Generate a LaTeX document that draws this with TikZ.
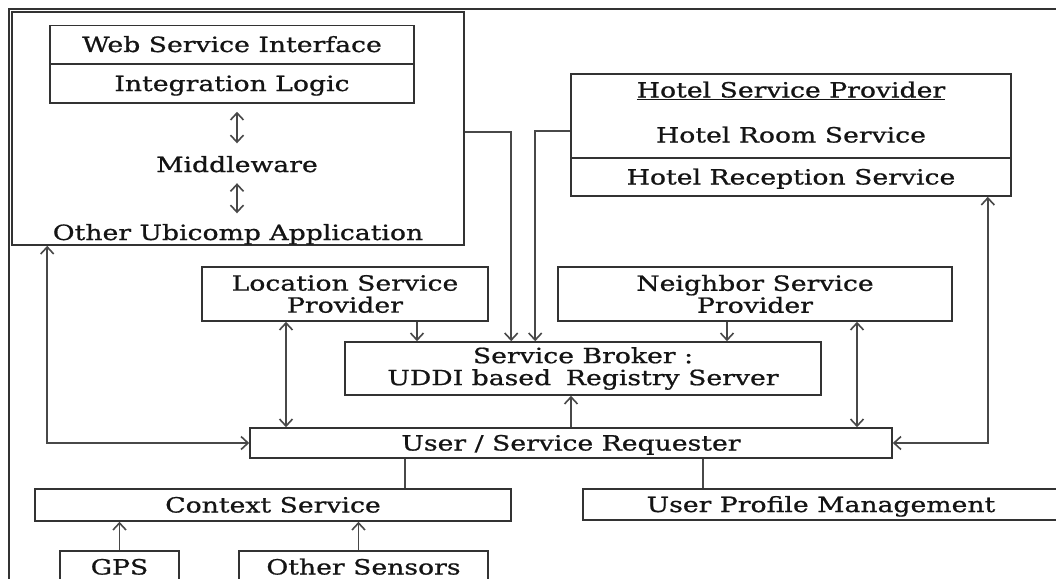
\documentclass[tikz,border=0pt]{standalone}
\usepackage{fontspec}
\setmainfont{DejaVu Serif}[FakeStretch=1.27,FakeBold=0.8]
\usetikzlibrary{arrows.meta}
\definecolor{boxc}{HTML}{333333}
\definecolor{linec}{HTML}{484848}
\definecolor{textc}{HTML}{141414}
\begin{document}
\begin{tikzpicture}[x=1pt,y=-1pt,
  txt/.style={text=textc,font=\fontsize{21pt}{22pt}\selectfont},
  box/.style={txt,draw=boxc,line width=1.6pt,rectangle,inner sep=0pt,
    text height=15pt,text depth=0pt},
  boxtwo/.style={txt,draw=boxc,line width=1.6pt,rectangle,inner sep=0pt,align=center},
  lbl/.style={txt,inner sep=0pt,text height=15pt,text depth=0pt},
  ln/.style={draw=linec,line width=1.8pt},
  arr/.style={ln,-{Straight Barb[length=7pt,width=13pt,line width=1.6pt]}},
  dbl/.style={ln,{Straight Barb[length=7pt,width=13pt,line width=1.6pt]}-{Straight Barb[length=7pt,width=13pt,line width=1.6pt]}}
]
\useasboundingbox (0,0) rectangle (1056,578);
\fill[white] (0,0) rectangle (1056,578);
\clip (0,0) rectangle (1056,578);

% outer frame, running off the page on the right and at the bottom
\draw[boxc,line width=1.5pt] (9,600) -- (9,9) -- (1080,9);

% ubiquitous computing application
\node[box,minimum width=452,minimum height=233] (ubi) at (238,128.5) {};
\node[box,minimum width=364,minimum height=38] (wsi) at (232,44.5) {Web Service Interface};
\node[box,minimum width=364,minimum height=39] (intl) at (232,83.5) {Integration Logic};
\node[lbl] (mid) at (237,164.5) {Middleware};
\node[lbl] (oua) at (238,232.5) {Other Ubicomp Application};
\draw[dbl,shorten <=8pt,shorten >=13.5pt] (mid.north |- intl.south) -- (mid.north);
\draw[dbl,shorten <=11pt,shorten >=11.5pt] (mid.south) -- (mid.south |- oua.north);

% hotel service provider
\node[box,minimum width=440,minimum height=84] (hsp) at (791,116) {};
\node[lbl] (hspt) at (791,90) {\underline{Hotel Service Provider}};
\node[lbl] (hrs) at (791,135) {Hotel Room Service};
\node[box,minimum width=440,minimum height=38] (hrc) at (791,177) {Hotel Reception Service};

% providers, broker and requester
\node[boxtwo,minimum width=286,minimum height=54] (loc) at (345,294) {Location Service\\Provider};
\node[boxtwo,minimum width=394,minimum height=54] (nbr) at (755,294) {Neighbor Service\\Provider};
\node[boxtwo,minimum width=476,minimum height=53] (broker) at (583,368.5) {Service Broker :\\UDDI based\hspace{0.3em} Registry Server};
\node[box,minimum width=642,minimum height=30] (req) at (571,443) {User / Service Requester};

% context and profile
\node[box,minimum width=476,minimum height=32] (ctx) at (273,505) {Context Service};
\node[box,minimum width=476,minimum height=31] (upm) at (821,504.5) {User Profile Management};
\node[box,minimum width=119,minimum height=32] (gps) at (119.5,567) {GPS};
\node[box,minimum width=249,minimum height=32] (oth) at (363.5,567) {Other Sensors};

% registrations at the broker
\draw[arr] ([yshift=-3.5pt]ubi.east) -| ([xshift=167pt]broker.north west);
\draw[arr] ([yshift=-15pt]hsp.west) -| ([xshift=191pt]broker.north west);
\draw[arr] ([xshift=72pt]loc.south) -- ([xshift=72pt]loc.south |- broker.north);
\draw[arr] ([xshift=-28pt]nbr.south) -- ([xshift=-28pt]nbr.south |- broker.north);

% requester links
\draw[dbl] ([xshift=-59pt]loc.south) -- ([xshift=-59pt]loc.south |- req.north);
\draw[dbl] ([xshift=102pt]nbr.south) -- ([xshift=102pt]nbr.south |- req.north);
\draw[arr] (req.north) -- (req.north |- broker.south);
\draw[dbl] ([xshift=36pt]ubi.south west) |- (req.west);
\draw[dbl] (req.east) -| ([xshift=-24pt]hrc.south east);
\draw[ln] ([xshift=-166pt]req.south) -- ([xshift=-166pt]req.south |- ctx.north);
\draw[ln] ([xshift=132pt]req.south) -- ([xshift=132pt]req.south |- upm.north);

% sensors feeding the context service
\draw[arr] (gps.north) -- (gps.north |- ctx.south);
\draw[arr] ([xshift=-5pt]oth.north) -- ([xshift=-5pt]oth.north |- ctx.south);
\end{tikzpicture}
\end{document}
